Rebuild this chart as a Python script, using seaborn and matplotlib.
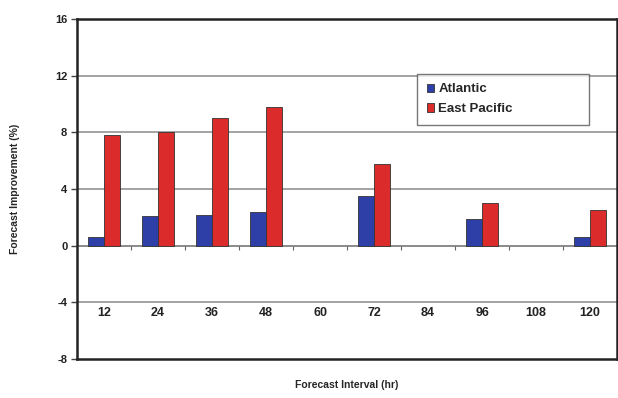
import numpy as np
import pandas as pd
import matplotlib
matplotlib.use("Agg")
import matplotlib.pyplot as plt
import seaborn as sns

# forecast intervals (hr) and improvement (%)
intervals = ["12", "24", "36", "48", "60", "72", "84", "96", "108", "120"]
atlantic = [0.6, 2.1, 2.2, 2.4, np.nan, 3.5, np.nan, 1.9, np.nan, 0.6]
east_pacific = [7.8, 8.0, 9.0, 9.8, np.nan, 5.8, np.nan, 3.0, np.nan, 2.5]
yticks = [-8, -4, 0, 4, 8, 12, 16]

df = pd.DataFrame({
    "interval": intervals * 2,
    "value": atlantic + east_pacific,
    "basin": ["Atlantic"] * len(intervals) + ["East Pacific"] * len(intervals),
})

sns.set_style("white")
plt.rcParams["font.family"] = ["Liberation Sans", "DejaVu Sans"]
plt.rcParams["font.weight"] = "bold"

fig = plt.figure(figsize=(6.18, 3.98), dpi=100)
ax = fig.add_axes([0.1246, 0.098, 0.874, 0.854])

sns.barplot(data=df, x="interval", y="value", hue="basin", order=intervals,
            palette={"Atlantic": "#2e3fa8", "East Pacific": "#dc2b2b"},
            saturation=1, width=0.6, edgecolor="#333333", linewidth=0.6,
            errorbar=None, ax=ax, zorder=3)

ax.set_ylim(-8, 16)
ax.set_xlim(-0.5, len(intervals) - 0.5)
ax.set_yticks(yticks)
ax.set_yticklabels([str(t) for t in yticks], fontsize=8, fontweight="bold")
for t in yticks[1:-1]:
    ax.axhline(t, color="#8a8a8a", lw=1.1 if t != 0 else 1.4, zorder=1)

# category labels sit just under the -4 gridline, small ticks on zero line
ax.set_xticks([])
for i, lab in enumerate(intervals):
    ax.text(i, -4.35, lab, ha="center", va="top", fontsize=9,
            fontweight="bold", color="#222222")
bounds = np.arange(len(intervals) - 1) + 0.5
ax.vlines(bounds, -0.3, 0, color="#666666", lw=0.8, zorder=2)

ax.tick_params(axis="y", left=True, length=4, width=1, color="#444444",
               pad=3, labelcolor="#222222")
for s in ax.spines.values():
    s.set_visible(True)
    s.set_color("#222222")
    s.set_linewidth(1.8)

ax.set_xlabel("Forecast Interval (hr)", fontsize=7.5, fontweight="bold",
              labelpad=15)
ax.set_ylabel("Forecast Improvement (%)", fontsize=7.5, fontweight="bold",
              labelpad=25)

leg = ax.legend(loc="upper left", bbox_to_anchor=(0.63, 0.688, 0.317, 0.15),
                mode="expand", fontsize=9.5, frameon=True, fancybox=False,
                edgecolor="#555555", handlelength=0.6, handleheight=0.6,
                handletextpad=0.3, borderpad=0.7, labelspacing=0.6,
                borderaxespad=0)
leg.get_frame().set_linewidth(1.0)
for t in leg.get_texts():
    t.set_fontweight("bold")
leg.set_zorder(5)

fig.savefig("out.png", dpi=100)
